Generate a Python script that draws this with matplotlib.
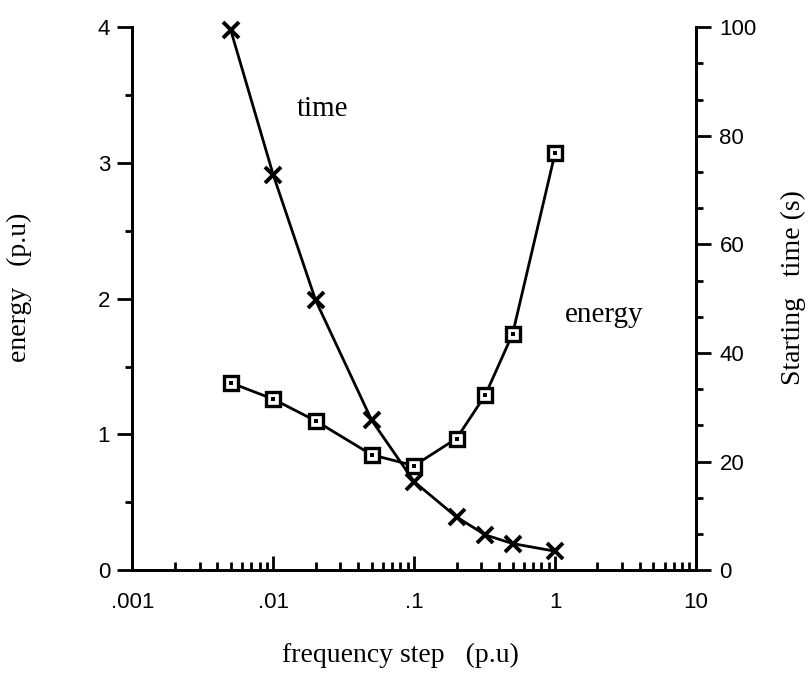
import numpy as np
import matplotlib.pyplot as plt
from matplotlib.ticker import FixedLocator, MultipleLocator, LogLocator, NullFormatter

# frequency step (p.u), shared by both curves
step = [0.005, 0.01, 0.02, 0.05, 0.1, 0.2, 0.32, 0.5, 1.0]
# starting energy (p.u), left axis
energy = [1.38, 1.26, 1.10, 0.85, 0.77, 0.97, 1.29, 1.74, 3.07]
# starting time (s), right axis
start_time = [99.4, 72.8, 49.7, 27.6, 16.3, 9.8, 6.5, 4.9, 3.5]

xtick_vals = [0.001, 0.01, 0.1, 1, 10]
xtick_labels = ['.001', '.01', '.1', '1', '10']

SANS = 'Liberation Sans'
SERIF = 'Liberation Serif'
LW = 2.0

fig = plt.figure(figsize=(8.12, 6.78), dpi=100)
ax = fig.add_axes([0.163, 0.159, 0.694, 0.801])
ax2 = ax.twinx()

# energy curve: open squares with a dot in the middle
ax.plot(step, energy, color='black', lw=LW, zorder=3)
ax.plot(step, energy, ls='none', marker='s', ms=10, mfc='white', mec='black',
        mew=2.4, zorder=4)
ax.plot(step, energy, ls='none', marker='s', ms=2.2, mfc='black', mec='black',
        mew=0, zorder=5)

# starting time curve with crosses
ax2.plot(step, start_time, color='black', lw=LW, marker='x',
         ms=12, mew=2.8, clip_on=False, zorder=3)

ax.set_xscale('log')
ax.set_xlim(1e-3, 10)
ax.set_ylim(0, 4)
ax2.set_ylim(0, 100)

ax.xaxis.set_major_locator(FixedLocator(xtick_vals))
ax.set_xticklabels(xtick_labels)
ax.xaxis.set_minor_locator(LogLocator(base=10, subs=np.arange(2, 10)))
ax.xaxis.set_minor_formatter(NullFormatter())
ax.yaxis.set_major_locator(MultipleLocator(1))
ax.yaxis.set_minor_locator(MultipleLocator(0.5))
ax2.yaxis.set_major_locator(MultipleLocator(20))
ax2.yaxis.set_minor_locator(MultipleLocator(20 / 3))

ax.tick_params(axis='x', which='major', direction='in', length=10, width=LW,
               pad=16, labelsize=16)
ax.tick_params(axis='x', which='minor', direction='in', length=6, width=LW)
ax.tick_params(axis='y', which='major', direction='out', length=11, width=LW,
               pad=5, labelsize=16)
ax.tick_params(axis='y', which='minor', direction='out', length=5, width=LW)
ax2.tick_params(axis='y', which='major', direction='out', length=11, width=LW,
                pad=6, labelsize=16)
ax2.tick_params(axis='y', which='minor', direction='out', length=5, width=LW)

for a in (ax, ax2):
    a.spines['top'].set_visible(False)
    for s in ('left', 'right', 'bottom'):
        a.spines[s].set_linewidth(LW)
    for lbl in a.get_xticklabels() + a.get_yticklabels():
        lbl.set_family(SANS)

ax.set_xlabel('frequency step   (p.u)', family=SERIF, fontsize=20)
ax.set_ylabel('energy   (p.u)', family=SERIF, fontsize=20)
ax2.set_ylabel('Starting   time (s)', family=SERIF, fontsize=20)
ax.xaxis.set_label_coords(0.475, -0.134)
ax.yaxis.set_label_coords(-0.178, 0.52)
ax2.yaxis.set_label_coords(1.15, 0.52)

ax.text(0.0225, 3.40, 'time', family=SERIF, fontsize=21, ha='center', va='center')
ax.text(2.22, 1.88, 'energy', family=SERIF, fontsize=21, ha='center', va='center')

fig.savefig('out.png', dpi=100, facecolor='white')
